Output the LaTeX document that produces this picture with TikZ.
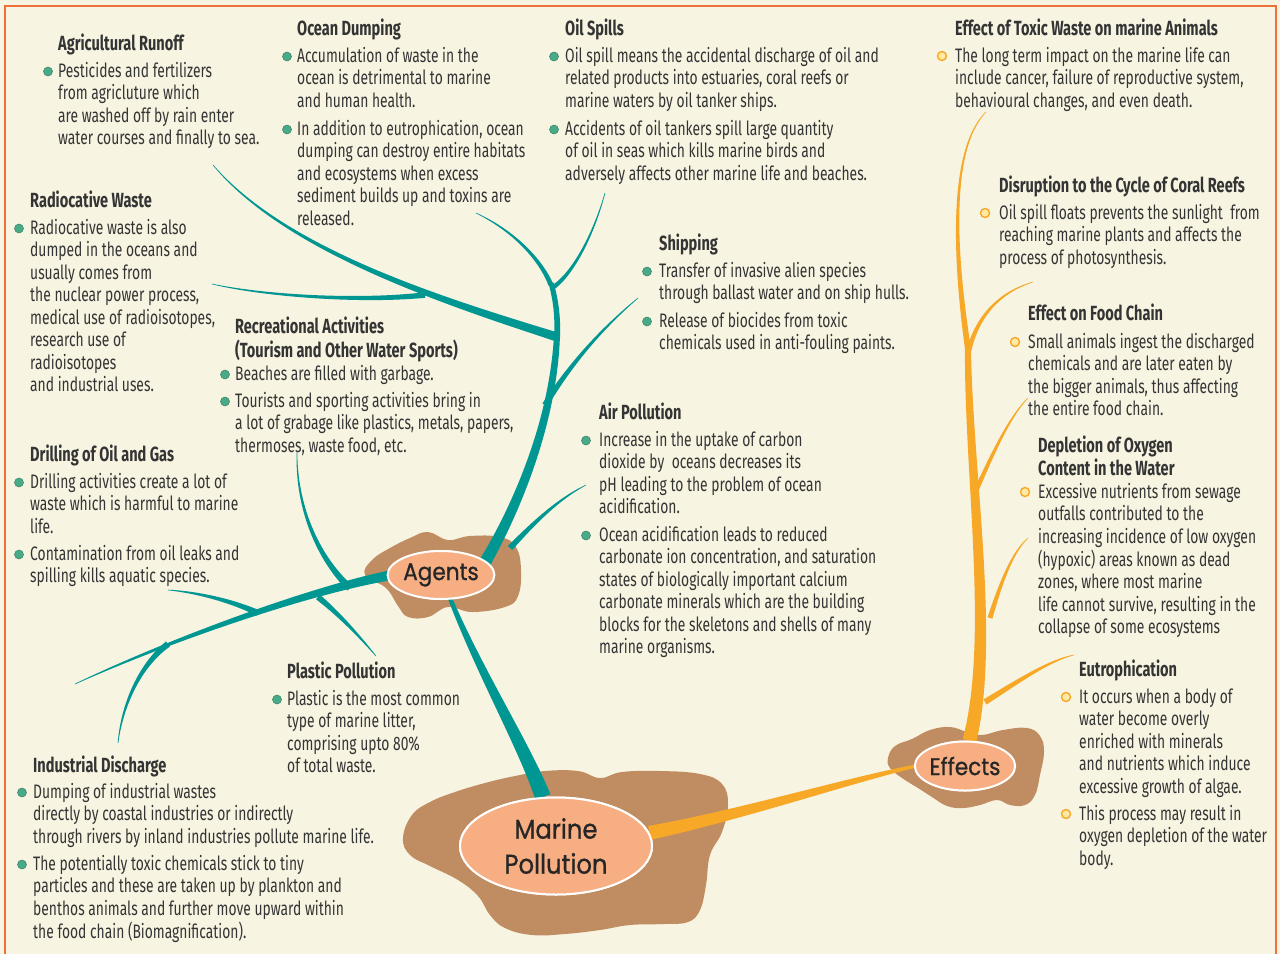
\documentclass[tikz,border=0pt]{standalone}
\usepackage{fontspec}
\setmainfont{Fira Sans}[FakeStretch=0.71]
\newfontfamily\titlefont{Poppins}[FakeStretch=0.9, FakeBold=0.8]
\usetikzlibrary{calc, shapes.geometric}
\definecolor{paper}{RGB}{248,244,226}
\definecolor{framered}{RGB}{238,112,60}
\definecolor{seateal}{RGB}{0,150,145}
\definecolor{effectorange}{RGB}{247,168,38}
\definecolor{mudbrown}{RGB}{192,141,98}
\definecolor{peach}{RGB}{246,174,130}
\definecolor{ink}{RGB}{52,52,52}
\definecolor{dotgreen}{RGB}{72,170,135}
\definecolor{dotyellow}{RGB}{255,233,165}

% lines of a text block, first baseline on top
\newcommand{\lns}[1]{\begin{tabular}[t]{@{}l@{}}#1\end{tabular}}
% tapered branch: [colour] start, c1, c2, end, half width at start, half width at end
\newcommand{\twig}[7][seateal]{%
  \pgfmathsetmacro\twA{#6}%
  \pgfmathsetmacro\twB{(2*#6+#7)/3}%
  \pgfmathsetmacro\twC{(#6+2*#7)/3}%
  \pgfmathsetmacro\twD{#7}%
  \fill[#1] ($#2!\twA pt!90:#3$) .. controls ($#3!\twB pt!90:#4$) and ($#4!\twC pt!90:#5$) .. ($#5!\twD pt!-90:#4$)
    -- ($#5!\twD pt!90:#4$) .. controls ($#4!\twC pt!-90:#5$) and ($#3!\twB pt!-90:#4$) .. ($#2!\twA pt!-90:#3$) -- cycle;}

\begin{document}
\begin{tikzpicture}[x=1pt, y=-1pt,
  head/.style={anchor=base west, inner sep=0pt, text=ink, font=\fontsize{20.5}{22.5}\selectfont\bfseries},
  body/.style={anchor=base west, inner sep=0pt, text=ink, font=\fontsize{19.5}{22.5}\selectfont},
  adot/.style={circle, fill=dotgreen, draw=dotgreen!75!black, line width=0.5pt, inner sep=0pt, minimum size=9pt},
  edot/.style={circle, fill=dotyellow, draw=effectorange, line width=1.4pt, inner sep=0pt, minimum size=9pt},
  hub/.style={ellipse, fill=peach, draw=white, line width=2pt, inner sep=0pt, text=black!85, font=\titlefont\fontsize{24}{28}\selectfont},
  mud/.style={fill=mudbrown}
]
\useasboundingbox (0,0) rectangle (1280,954);
\fill[paper] (0,0) rectangle (1280,954);
\draw[framered, line width=2pt] (5,954) -- (5,6) -- (1276,6) -- (1276,954);

% mud blobs
\fill[mud] plot[smooth cycle, tension=0.7] coordinates {(403,838) (412,815) (430,802) (455,792) (485,783) (515,776) (545,771) (578,771) (600,778) (622,772) (660,771) (700,774) (722,784) (728,805) (722,832) (710,855) (706,885) (700,910) (688,922) (665,924) (630,925) (600,930) (565,934) (532,935) (505,928) (490,915) (478,896) (458,880) (430,866) (410,855)};
\fill[mud] plot[smooth cycle, tension=0.7] coordinates {(365,575) (372,560) (390,548) (410,538) (428,532) (448,540) (470,536) (500,537) (516,547) (521,570) (518,596) (505,607) (472,612) (448,607) (428,617) (408,617) (398,606) (386,588)};
\fill[mud] plot[smooth cycle, tension=0.7] coordinates {(888,758) (895,746) (912,739) (930,730) (950,727) (967,732) (982,735) (1003,730) (1027,728) (1040,736) (1044,752) (1040,775) (1035,795) (1025,805) (1010,805) (997,800) (980,805) (963,808) (947,806) (932,797) (918,788) (902,778) (890,768)};

% hubs (drawn later on top of the branches)
\path (556,846) node[hub, minimum width=192pt, minimum height=97pt] (mp) {}
      (441,575) node[hub, minimum width=96pt, minimum height=48pt] (agents) {}
      (965,766) node[hub, minimum width=96pt, minimum height=49pt] (effects) {};

% agents tree
\twig{(mp.105)}{(522,740)}{(472,660)}{(agents.center)}{8}{1.5}
\twig{(agents.15)}{(510,520)}{(553,430)}{(557,335)}{6}{3}
\twig{(557,337)}{(558,318)}{(556,300)}{(551,283)}{3}{2.5}
\twig{(551,285)}{(540,258)}{(512,230)}{(476,213)}{2.5}{0.3}
\twig{(552,288)}{(570,277)}{(592,240)}{(605,193)}{2.3}{0.3}
\twig{(557,337)}{(440,300)}{(285,250)}{(213,165)}{4.5}{0.3}
\twig{(425,295)}{(360,302)}{(265,296)}{(212,284)}{2.8}{0.3}
\twig{(545,405)}{(570,365)}{(600,330)}{(638,298)}{3}{0.3}
\twig{(510,548)}{(530,527)}{(556,500)}{(586,485)}{3}{0.3}
\twig{(agents.180)}{(310,590)}{(170,640)}{(75,684)}{5}{0.3}
\twig{(350,588)}{(320,560)}{(296,510)}{(297,452)}{3.5}{0.3}
\twig{(258,613)}{(230,600)}{(195,592)}{(168,590)}{3}{0.3}
\twig{(168,644)}{(140,665)}{(122,705)}{(118,743)}{3.2}{0.3}
\twig{(318,597)}{(340,615)}{(360,637)}{(376,656)}{3}{0.3}

% effects tree
\twig[effectorange]{(mp.8)}{(740,815)}{(850,780)}{(effects.180)}{7}{1.5}
\twig[effectorange]{(effects.80)}{(995,640)}{(968,470)}{(968,347)}{7}{3}
\twig[effectorange]{(968,349)}{(955,260)}{(948,150)}{(986,112)}{3}{0.3}
\twig[effectorange]{(969,350)}{(978,315)}{(1000,292)}{(1033,282)}{2.5}{0.3}
\twig[effectorange]{(974,495)}{(990,460)}{(1008,418)}{(1028,398)}{2.5}{0.3}
\twig[effectorange]{(990,618)}{(1000,585)}{(1012,552)}{(1028,538)}{2.5}{0.3}
\twig[effectorange]{(985,702)}{(1020,680)}{(1050,660)}{(1074,655)}{3}{0.3}

% hub labels
\node[hub, minimum width=192pt, minimum height=97pt, align=center, font=\titlefont\fontsize{27}{35}\selectfont] (mpl) at (mp) {Marine\\Pollution};
\node[hub, minimum width=96pt, minimum height=48pt] (agentsl) at (agents) {Agents};
\node[hub, minimum width=96pt, minimum height=49pt] (effectsl) at (effects) {Effects};

% Agricultural Runoff
\node[head] (agrih) at (58,50) {Agricultural Runoff};
\node[body] (agri1) at (58,77) {\lns{Pesticides and fertilizers\\from agricluture which\\are washed off by rain enter\\water courses and finally to sea.}};
\node[adot] (agri1d) at ([shift={(-10pt,5.5pt)}]agri1.base west) {};

% Ocean Dumping
\node[head] (oceanh) at (297,35) {Ocean Dumping};
\node[body] (ocean1) at (297,62) {\lns{Accumulation of waste in the\\ocean is detrimental to marine\\and human health.}};
\node[body] (ocean2) at (297,135) {\lns{In addition to eutrophication, ocean\\dumping can destroy entire habitats\\and ecosystems when excess\\sediment builds up and toxins are\\released.}};
\node[adot] (ocean1d) at ([shift={(-10pt,5.5pt)}]ocean1.base west) {};
\node[adot] (ocean2d) at ([shift={(-10pt,5.5pt)}]ocean2.base west) {};

% Oil Spills
\node[head] (oilh) at (565,35) {Oil Spills};
\node[body] (oil1) at (565,62) {\lns{Oil spill means the accidental discharge of oil and\\related products into estuaries, coral reefs or\\marine waters by oil tanker ships.}};
\node[body] (oil2) at (565,135) {\lns{Accidents of oil tankers spill large quantity\\of oil in seas which kills marine birds and\\adversely affects other marine life and beaches.}};
\node[adot] (oil1d) at ([shift={(-11pt,5.5pt)}]oil1.base west) {};
\node[adot] (oil2d) at ([shift={(-11pt,5.5pt)}]oil2.base west) {};

% Radiocative Waste
\node[head] (radioh) at (30,207) {Radiocative Waste};
\node[body] (radio1) at (30,234) {\lns{Radiocative waste is also\\dumped in the oceans and\\usually comes from\\the nuclear power process,\\medical use of radioisotopes,\\research use of\\radioisotopes\\and industrial uses.}};
\node[adot] (radio1d) at ([shift={(-11pt,5.5pt)}]radio1.base west) {};

% Shipping
\node[head] (shiph) at (659,250) {Shipping};
\node[body] (ship1) at (659,277) {\lns{Transfer of invasive alien species\\through ballast water and on ship hulls.}};
\node[body] (ship2) at (659,327) {\lns{Release of biocides from toxic\\chemicals used in anti-fouling paints.}};
\node[adot] (ship1d) at ([shift={(-12pt,5.5pt)}]ship1.base west) {};
\node[adot] (ship2d) at ([shift={(-12pt,5.5pt)}]ship2.base west) {};

% Recreational Activities
\node[head] (recreh) at (235,333) {\lns{Recreational Activities\\(Tourism and Other Water Sports)}};
\node[body] (recre1) at (235,380) {\lns{Beaches are filled with garbage.}};
\node[body] (recre2) at (235,407) {\lns{Tourists and sporting activities bring in\\a lot of grabage like plastics, metals, papers,\\thermoses, waste food, etc.}};
\node[adot] (recre1d) at ([shift={(-10pt,5.5pt)}]recre1.base west) {};
\node[adot] (recre2d) at ([shift={(-10pt,5.5pt)}]recre2.base west) {};

% Air Pollution
\node[head] (airh) at (599,419) {Air Pollution};
\node[body] (air1) at (599,446) {\lns{Increase in the uptake of carbon\\dioxide by\ \ oceans decreases its\\pH leading to the problem of ocean\\acidification.}};
\node[body] (air2) at (599,541) {\lns{Ocean acidification leads to reduced\\carbonate ion concentration, and saturation\\states of biologically important calcium\\carbonate minerals which are the building\\blocks for the skeletons and shells of many\\marine organisms.}};
\node[adot] (air1d) at ([shift={(-13pt,5.5pt)}]air1.base west) {};
\node[adot] (air2d) at ([shift={(-13pt,5.5pt)}]air2.base west) {};

% Drilling of Oil and Gas
\node[head] (drillh) at (30,461) {Drilling of Oil and Gas};
\node[body] (drill1) at (30,488) {\lns{Drilling activities create a lot of\\waste which is harmful to marine\\life.}};
\node[body] (drill2) at (30,560) {\lns{Contamination from oil leaks and\\spilling kills aquatic species.}};
\node[adot] (drill1d) at ([shift={(-11pt,5.5pt)}]drill1.base west) {};
\node[adot] (drill2d) at ([shift={(-11pt,5.5pt)}]drill2.base west) {};

% Plastic Pollution
\node[head] (plastich) at (287,678) {Plastic Pollution};
\node[body] (plastic1) at (287,705) {\lns{Plastic is the most common\\type of marine litter,\\comprising upto 80\%\\of total waste.}};
\node[adot] (plastic1d) at ([shift={(-10pt,5.5pt)}]plastic1.base west) {};

% Industrial Discharge
\node[head] (indush) at (33,772) {Industrial Discharge};
\node[body] (indus1) at (33,798) {\lns{Dumping of industrial wastes\\directly by coastal industries or indirectly\\through rivers by inland industries pollute marine life.}};
\node[body] (indus2) at (33,870) {\lns{The potentially toxic chemicals stick to tiny\\particles and these are taken up by plankton and\\benthos animals and further move upward within\\the food chain (Biomagnification).}};
\node[adot] (indus1d) at ([shift={(-11pt,5.5pt)}]indus1.base west) {};
\node[adot] (indus2d) at ([shift={(-11pt,5.5pt)}]indus2.base west) {};

% Effect of Toxic Waste
\node[head] (toxich) at (955,35) {Effect of Toxic Waste on marine Animals};
\node[body] (toxic1) at (955,62) {\lns{The long term impact on the marine life can\\include cancer, failure of reproductive system,\\behavioural changes, and even death.}};
\node[edot] (toxic1d) at ([shift={(-13pt,6pt)}]toxic1.base west) {};

% Coral Reefs
\node[head] (coralh) at (999,192) {Disruption to the Cycle of Coral Reefs};
\node[body] (coral1) at (999,219) {\lns{Oil spill floats prevents the sunlight\ \ from\\reaching marine plants and affects the\\process of photosynthesis.}};
\node[edot] (coral1d) at ([shift={(-14pt,6pt)}]coral1.base west) {};

% Food Chain
\node[head] (foodh) at (1028,320) {Effect on Food Chain};
\node[body] (food1) at (1028,348) {\lns{Small animals ingest the discharged\\chemicals and are later eaten by\\the bigger animals, thus affecting\\the entire food chain.}};
\node[edot] (food1d) at ([shift={(-13pt,6pt)}]food1.base west) {};

% Depletion of Oxygen
\node[head] (oxyh) at (1038,452) {\lns{Depletion of Oxygen\\Content in the Water}};
\node[body] (oxy1) at (1038,498) {\lns{Excessive nutrients from sewage\\outfalls contributed to the\\increasing incidence of low oxygen\\(hypoxic) areas known as dead\\zones, where most marine\\life cannot survive, resulting in the\\collapse of some ecosystems}};
\node[edot] (oxy1d) at ([shift={(-13pt,6pt)}]oxy1.base west) {};

% Eutrophication
\node[head] (eutroh) at (1079,676) {Eutrophication};
\node[body] (eutro1) at (1079,703) {\lns{It occurs when a body of\\water become overly\\enriched with minerals\\and nutrients which induce\\excessive growth of algae.}};
\node[body] (eutro2) at (1079,820) {\lns{This process may result in\\oxygen depletion of the water\\body.}};
\node[edot] (eutro1d) at ([shift={(-13pt,6pt)}]eutro1.base west) {};
\node[edot] (eutro2d) at ([shift={(-13pt,6pt)}]eutro2.base west) {};

\end{tikzpicture}
\end{document}
